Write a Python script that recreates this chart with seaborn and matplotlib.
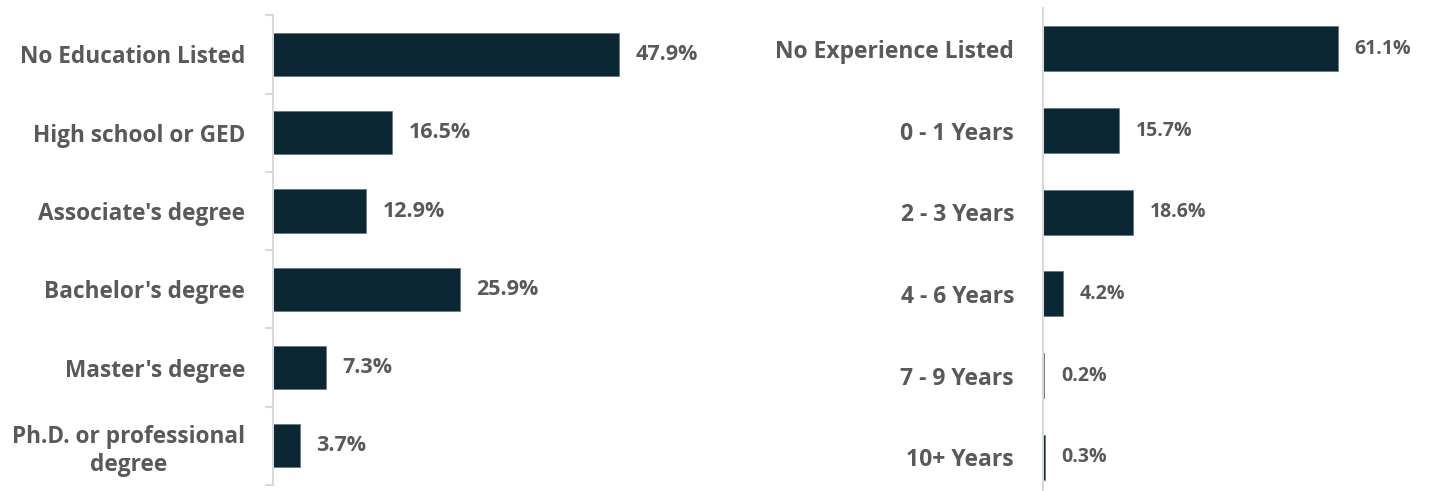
import pandas as pd
import seaborn as sns
import matplotlib.pyplot as plt

# Dados
education = ['No Education Listed', 'High school or GED', "Associate's degree",
             "Bachelor's degree", "Master's degree", 'Ph.D. or professional\ndegree']
education_pct = [47.9, 16.5, 12.9, 25.9, 7.3, 3.7]

experience = ['No Experience Listed', '0 - 1 Years', '2 - 3 Years',
              '4 - 6 Years', '7 - 9 Years', '10+ Years']
experience_pct = [61.1, 15.7, 18.6, 4.2, 0.2, 0.3]

bar_color = '#0b2733'
text_color = '#595959'
spine_color = '#d9d9d9'

sns.set_theme(style='white')
plt.rcParams['font.family'] = ['Open Sans', 'DejaVu Sans']

fig = plt.figure(figsize=(14.29, 4.91), dpi=100)
ax1 = fig.add_axes([0.191, 0.012, 0.303, 0.957])
ax2 = fig.add_axes([0.730, -0.0143, 0.27, 0.998])

df1 = pd.DataFrame({'cat': education, 'pct': education_pct})
df2 = pd.DataFrame({'cat': experience, 'pct': experience_pct})


def draw(ax, df, xmax, label_size, tick_size, pad, boundary_ticks):
    sns.barplot(data=df, y='cat', x='pct', orient='h', color=bar_color,
                width=0.55, saturation=1, edgecolor='#5f7580', linewidth=0.5, ax=ax)
    ax.set_xlim(0, xmax)
    ax.set_ylim(len(df) - 0.5, -0.5)
    ax.set_xlabel('')
    ax.set_ylabel('')
    ax.set_xticks([])
    for s in ['top', 'right', 'bottom']:
        ax.spines[s].set_visible(False)
    ax.spines['left'].set_color(spine_color)
    ax.spines['left'].set_linewidth(1.5)
    ax.tick_params(axis='y', which='major', length=0, pad=pad,
                   labelsize=tick_size, labelcolor=text_color)
    for lab in ax.get_yticklabels():
        lab.set_fontweight('bold')
        lab.set_multialignment('center')
    if boundary_ticks:
        ax.set_yticks([i - 0.5 for i in range(len(df) + 1)], minor=True)
        ax.tick_params(axis='y', which='minor', left=True, length=6, width=1.5,
                       color=spine_color)
    for i, v in enumerate(df['pct']):
        ax.annotate(f'{v}%', (v, i), xytext=(12, 0), textcoords='offset points',
                    va='center', ha='left', fontsize=label_size,
                    fontweight='bold', color=text_color)


draw(ax1, df1, 60, 15.5, 16.3, 20, True)
draw(ax2, df2, 80, 14, 16.5, 21, False)

plt.savefig('out.png', dpi=100)
plt.close()
